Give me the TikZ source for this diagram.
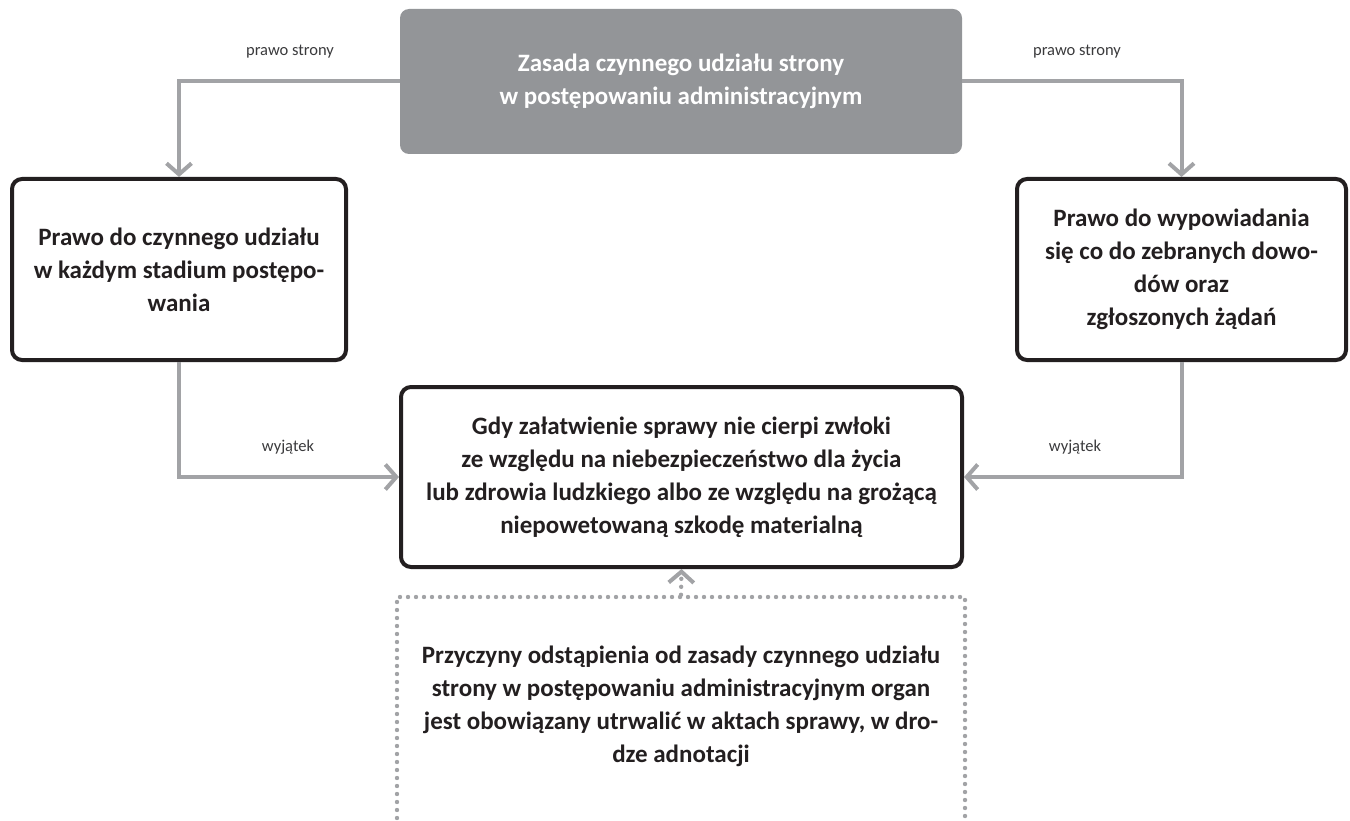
\documentclass[tikz,border=0pt]{standalone}
\usepackage{fontspec}
\setmainfont{Carlito}
\usetikzlibrary{arrows.meta}
\definecolor{edge}{HTML}{231F20}
\definecolor{conn}{HTML}{A2A3A6}
\definecolor{headfill}{HTML}{939598}
\definecolor{lbl}{HTML}{3A3A3C}

\begin{document}
\begin{tikzpicture}[x=1pt,y=-1pt,
  box/.style={draw=edge, line width=4pt, rounded corners=10pt, fill=white,
    align=center, text=edge, inner sep=0pt,
    font=\bfseries\fontsize{25}{33}\selectfont},
  headbox/.style={fill=headfill, rounded corners=9pt, align=center,
    text=white, inner sep=0pt, font=\bfseries\fontsize{25}{33}\selectfont},
  framebox/.style={draw=conn, line width=4.4pt, line cap=round,
    dash pattern=on 0pt off 8pt, inner sep=0pt},
  bodytext/.style={align=center, text=edge, inner sep=0pt,
    font=\bfseries\fontsize{25}{33}\selectfont},
  tag/.style={text=lbl, inner sep=0pt, font=\fontsize{16.5}{20}\selectfont},
  link/.style={draw=conn, line width=4pt,
    -{Straight Barb[length=11pt, width=25pt, line width=4pt]}},
  dotlink/.style={draw=conn, line width=4.4pt, line cap=round,
    dash pattern=on 0pt off 8pt,
    -{Straight Barb[length=11pt, width=25pt, line width=4pt]}}]
\useasboundingbox (0,0) rectangle (1350,821);
\clip (0,0) rectangle (1350,821);

% main principle
\node[headbox, minimum width=562pt, minimum height=145pt] (head) at (681,81.5)
  {Zasada czynnego udziału strony\\ w postępowaniu administracyjnym};

% two rights of the party
\node[box, minimum width=334pt, minimum height=181pt] (left) at (179,269.5)
  {Prawo do czynnego udziału\\ w każdym stadium postępo-\\ wania};
\node[box, minimum width=329pt, minimum height=181pt] (right) at (1181.5,269.5)
  {Prawo do wypowiadania\\ się co do zebranych dowo-\\ dów oraz\\ zgłoszonych żądań};

% exception
\node[box, minimum width=561pt, minimum height=180pt] (mid) at (681.5,477)
  {Gdy załatwienie sprawy nie cierpi zwłoki\\ ze względu na niebezpieczeństwo dla życia\\
   lub zdrowia ludzkiego albo ze względu na grożącą\\ niepowetowaną szkodę materialną};

% note on recording the reasons
\node[framebox, minimum width=568pt, minimum height=283pt] (note) at (681,738.5) {};
\node[bodytext] (notetext) at (681,706)
  {Przyczyny odstąpienia od zasady czynnego udziału\\
   strony w postępowaniu administracyjnym organ\\
   jest obowiązany utrwalić w aktach sprawy, w dro-\\ dze adnotacji};

% connectors
\draw[link] (head.west) -| (left.north);
\draw[link] (head.east) -| (right.north);
\draw[link] (left.south) |- (mid.west);
\draw[link] (right.south) |- (mid.east);
\draw[dotlink] (note.north) -- (mid.south);

% connector labels
\node[tag] (tl) at (290,52) {prawo strony};
\node[tag] (tr) at (1077,52) {prawo strony};
\node[tag] (wl) at (288,447) {wyjątek};
\node[tag] (wr) at (1075,447) {wyjątek};
\end{tikzpicture}
\end{document}
